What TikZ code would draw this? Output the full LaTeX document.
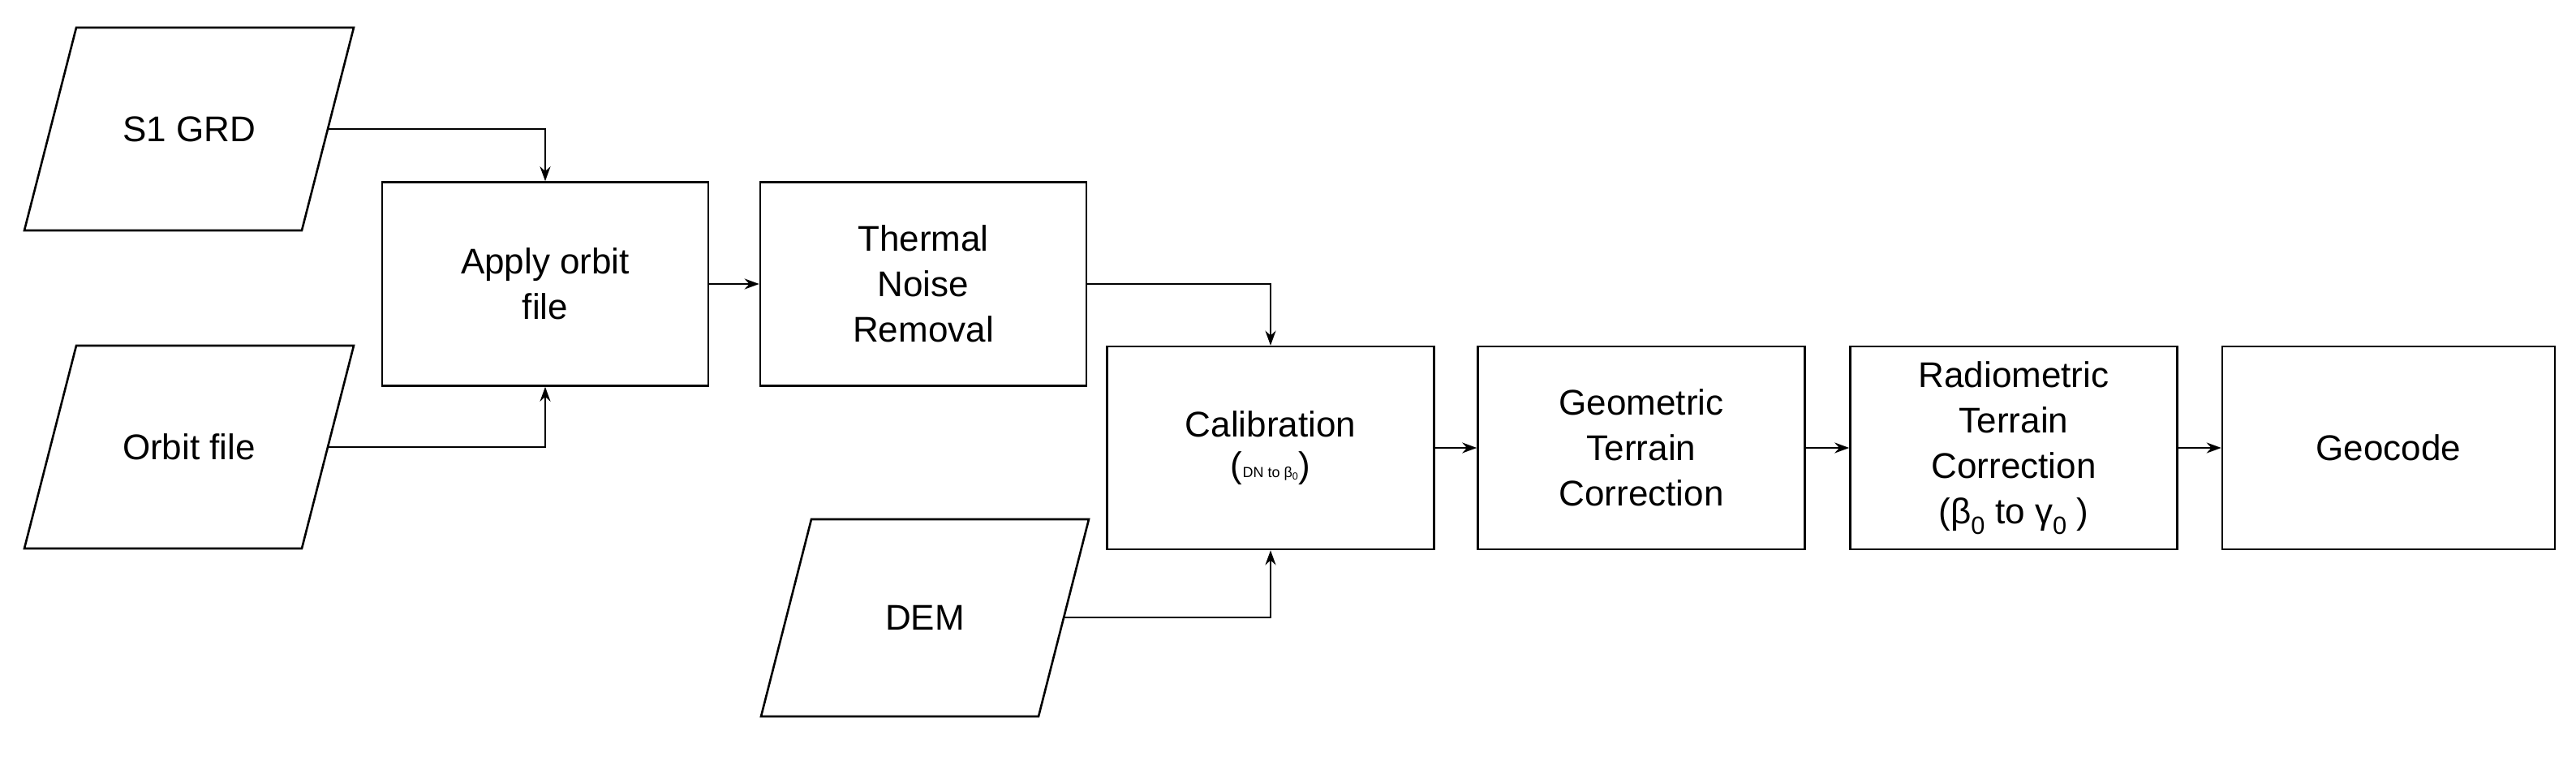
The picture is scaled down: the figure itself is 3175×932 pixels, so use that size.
\documentclass[tikz,border=0pt]{standalone}
\usepackage{fontspec}
\setmainfont{Liberation Sans}
\usetikzlibrary{arrows.meta}
\begin{document}
\begin{tikzpicture}[x=1pt,y=-1pt,
  box/.style={draw,line width=2.6pt,align=center,inner sep=0pt,font=\fontsize{44}{56}\selectfont},
  io/.style={align=center,inner sep=0pt,font=\fontsize{44}{56}\selectfont},
  par/.style={line width=2.6pt},
  arr/.style={line width=2.4pt,-{Stealth[length=18pt,width=13pt]}}]
\useasboundingbox (0,0) rectangle (3175,932);
% inputs
\node[io,minimum width=342pt,minimum height=250pt] (s1) at (233,159) {S1 GRD};
\node[io,minimum width=342pt,minimum height=250pt] (orb) at (233,551) {Orbit file};
\node[io,minimum width=342pt,minimum height=243pt] (dem) at (1140,761) {DEM};
\draw[par] ([shift={(-139,-125)}]s1.center) -- ++(342,0) -- ++(-64,250) -- ++(-342,0) -- cycle;
\draw[par] ([shift={(-139,-125)}]orb.center) -- ++(342,0) -- ++(-64,250) -- ++(-342,0) -- cycle;
\draw[par] ([shift={(-140,-121)}]dem.center) -- ++(342,0) -- ++(-62,243) -- ++(-342,0) -- cycle;
% processes
\node[box,minimum width=402pt,minimum height=251pt] (apply) at (672,350) {Apply orbit\\file};
\node[box,minimum width=402pt,minimum height=251pt] (tnr) at (1138,350) {Thermal\\Noise\\Removal};
\node[box,minimum width=403pt,minimum height=250pt] (cal) at (1566,552) {Calibration\\[-6pt]{\fontsize{44}{44}\selectfont(}{\fontsize{18}{18}\selectfont DN to β\textsubscript{0}}{\fontsize{44}{44}\selectfont)}};
\node[box,minimum width=403pt,minimum height=250pt] (geo) at (2023,552) {Geometric\\Terrain\\Correction};
\node[box,minimum width=403pt,minimum height=250pt] (rad) at (2482,552) {Radiometric\\Terrain\\Correction\\(β\textsubscript{0} to γ\textsubscript{0} )};
\node[box,minimum width=410pt,minimum height=250pt] (gc) at (2944,552) {Geocode};
% connectors
\draw[arr] (s1.east) -| (apply.north);
\draw[arr] (orb.east) -| (apply.south);
\draw[arr] (apply.east) -- (tnr.west);
\draw[arr] (tnr.east) -| (cal.north);
\draw[arr] (dem.east) -| (cal.south);
\draw[arr] (cal.east) -- (geo.west);
\draw[arr] (geo.east) -- (rad.west);
\draw[arr] (rad.east) -- (gc.west);
\end{tikzpicture}
\end{document}
